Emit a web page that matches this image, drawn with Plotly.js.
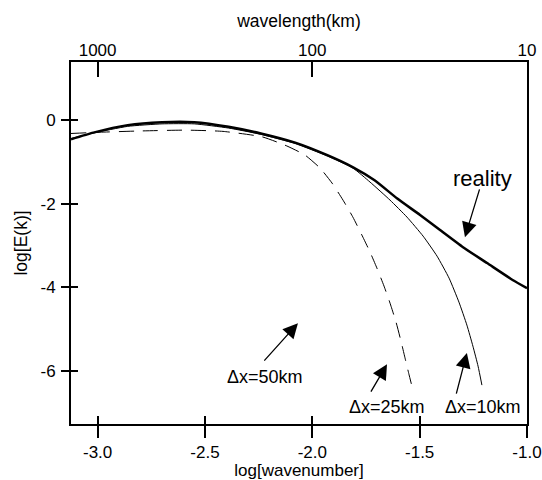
<!DOCTYPE html>
<html>
<head>
<meta charset="utf-8">
<script src="https://cdn.plot.ly/plotly-3.0.1.min.js"></script>
<style>html,body{margin:0;padding:0;background:#fff;}#chart{width:542px;height:480px;}</style>
</head>
<body>
<div id="chart"></div>
<script>
// log[wavenumber] vs log[E(k)]
const realityX = [-3.124, -3.02, -2.86, -2.70, -2.55, -2.39, -2.24, -2.08, -1.93, -1.81, -1.71, -1.606, -1.498, -1.405, -1.298, -1.186, -1.065, -1.0];
const realityY = [-0.46, -0.30, -0.12, -0.05, -0.05, -0.16, -0.32, -0.54, -0.84, -1.13, -1.44, -1.87, -2.27, -2.63, -3.04, -3.42, -3.83, -4.02];

const dx10X = [-3.124, -3.02, -2.86, -2.70, -2.55, -2.39, -2.24, -2.08, -1.93, -1.81, -1.731, -1.638, -1.559, -1.484, -1.419, -1.363, -1.317, -1.280, -1.252, -1.228, -1.210];
const dx10Y = [-0.44, -0.31, -0.15, -0.09, -0.09, -0.19, -0.34, -0.56, -0.86, -1.15, -1.483, -1.914, -2.321, -2.775, -3.254, -3.780, -4.354, -4.904, -5.407, -5.885, -6.340];

const dx25X = [-3.124, -2.989, -2.803, -2.588, -2.416, -2.234, -2.118, -2.034, -1.964, -1.908, -1.857, -1.811, -1.769, -1.731, -1.699, -1.666, -1.638, -1.610, -1.587, -1.568, -1.550, -1.536];
const dx25Y = [-0.32, -0.29, -0.26, -0.24, -0.27, -0.40, -0.62, -0.837, -1.148, -1.507, -1.914, -2.321, -2.751, -3.158, -3.541, -3.971, -4.378, -4.833, -5.287, -5.694, -6.077, -6.364];

const bottomTicks = [-3.0, -2.5, -2.0, -1.5, -1.0];
const bottomTickText = ['-3.0', '-2.5', '-2.0', '-1.5', '-1.0'];
const topTicks = [-3, -2, -1];
const topTickText = ['1000', '100', '10'];
const yTicks = [0, -2, -4, -6];
const yTickText = ['0', '-2', '-4', '-6'];

const xRange = [-3.124, -1.0];
const yRange = [-7.27, 1.39];

const FONT = 'Liberation Sans, Arial, Helvetica, sans-serif';

const traces = [
  {x: dx25X, y: dx25Y, mode: 'lines', line: {color: '#000', width: 1, dash: '15px,9px', shape: 'spline', smoothing: 0.5}, hoverinfo: 'skip'},
  {x: dx10X, y: dx10Y, mode: 'lines', line: {color: '#000', width: 1, shape: 'spline', smoothing: 0.5}, hoverinfo: 'skip'},
  {x: realityX, y: realityY, mode: 'lines', line: {color: '#000', width: 2.5, shape: 'spline', smoothing: 0.5}, hoverinfo: 'skip'},
  {x: [xRange[0]], y: [yRange[0]], xaxis: 'x2', yaxis: 'y', mode: 'markers', marker: {opacity: 0}, hoverinfo: 'skip'},
  {x: [xRange[0]], y: [yRange[0]], xaxis: 'x3', yaxis: 'y2', mode: 'markers', marker: {opacity: 0}, hoverinfo: 'skip'}
];

function arrow(tx, ty, hx, hy) {
  return {x: hx, y: hy, ax: tx, ay: ty, xref: 'x', yref: 'y', axref: 'x', ayref: 'y', text: '', showarrow: true,
          arrowhead: 2, arrowsize: 2.3, arrowwidth: 1.3, arrowcolor: '#000', standoff: 0, startstandoff: 0};
}
function label(t, x, y, size) {
  return {x: x, y: y, xref: 'x', yref: 'y', text: t, showarrow: false, font: {family: FONT, size: size, color: '#000'}, xanchor: 'center', yanchor: 'middle'};
}

const layout = {
  width: 542, height: 480,
  margin: {l: 71, r: 15, t: 62, b: 56},
  paper_bgcolor: '#fff', plot_bgcolor: '#fff',
  showlegend: false,
  font: {family: FONT, size: 17, color: '#000'},
  xaxis: {
    range: xRange, tickvals: bottomTicks, ticktext: bottomTickText,
    ticks: 'outside', ticklen: 12, tickwidth: 2, tickcolor: '#000',
    showline: true, mirror: true, linewidth: 2, linecolor: '#000',
    showgrid: false, zeroline: false, automargin: false,
    tickfont: {family: FONT, size: 17},
    title: {text: 'log[wavenumber]', font: {family: FONT, size: 17}, standoff: 3}
  },
  xaxis2: {
    overlaying: 'x', side: 'top', range: xRange, tickvals: topTicks, ticktext: topTickText,
    ticks: 'inside', ticklen: 15, tickwidth: 2, tickcolor: '#000',
    showline: false, showgrid: false, zeroline: false, automargin: false,
    ticklabelstandoff: 2,
    tickfont: {family: FONT, size: 17},
    title: {text: 'wavelength(km)', font: {family: FONT, size: 17.5}, standoff: 8}
  },
  xaxis3: {
    overlaying: 'x', side: 'bottom', range: xRange, tickvals: bottomTicks,
    ticks: 'inside', ticklen: 8, tickwidth: 2, tickcolor: '#000',
    showticklabels: false, showline: false, showgrid: false, zeroline: false, automargin: false
  },
  yaxis: {
    range: yRange, tickvals: yTicks, ticktext: yTickText,
    ticks: 'outside', ticklen: 8, tickwidth: 2, tickcolor: '#000',
    showline: true, mirror: true, linewidth: 2, linecolor: '#000',
    showgrid: false, zeroline: false, automargin: false,
    ticklabelstandoff: 2,
    tickfont: {family: FONT, size: 17},
    title: {text: 'log[E(k)]', font: {family: FONT, size: 17.5}, standoff: 8}
  },
  yaxis2: {
    overlaying: 'y', side: 'left', range: yRange, tickvals: yTicks,
    ticks: 'inside', ticklen: 7, tickwidth: 2, tickcolor: '#000',
    showticklabels: false, showline: false, showgrid: false, zeroline: false, automargin: false
  },
  annotations: [
    label('reality', -1.205, -1.39, 22),
    arrow(-1.219, -1.62, -1.289, -2.80),
    label('Δx=50km', -2.220, -6.15, 18),
    arrow(-2.230, -5.79, -2.067, -4.86),
    label('Δx=25km', -1.654, -6.86, 18),
    arrow(-1.731, -6.53, -1.652, -5.84),
    label('Δx=10km', -1.203, -6.86, 18),
    arrow(-1.331, -6.58, -1.280, -5.57)
  ]
};

Plotly.newPlot('chart', traces, layout, {staticPlot: true, displayModeBar: false});
</script>
</body>
</html>
